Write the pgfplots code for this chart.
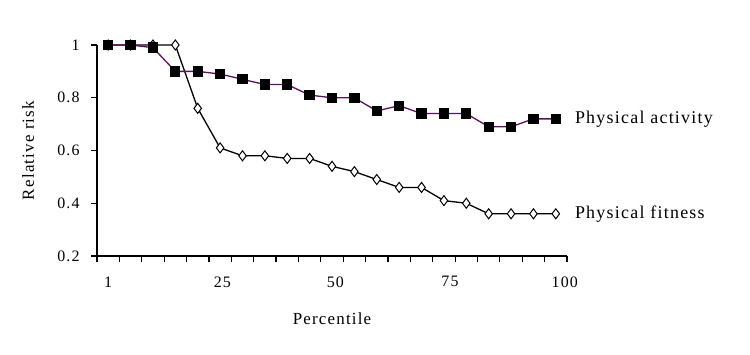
\documentclass[border=0pt]{standalone}
\usepackage{pgfplots}
\pgfplotsset{compat=1.18}
\usepackage{fontspec}
\setmainfont{Liberation Serif}[LetterSpace=7]
\definecolor{actpurple}{RGB}{96,16,96}
\pgfplotstableread{
x y
0 1.00
1 1.00
2 1.00
3 1.00
4 0.76
5 0.61
6 0.58
7 0.58
8 0.57
9 0.57
10 0.54
11 0.52
12 0.49
13 0.46
14 0.46
15 0.41
16 0.40
17 0.36
18 0.36
19 0.36
20 0.36
}\fitness
\pgfplotstableread{
x y
0 1.00
1 1.00
2 0.99
3 0.90
4 0.90
5 0.89
6 0.87
7 0.85
8 0.85
9 0.81
10 0.80
11 0.80
12 0.75
13 0.77
14 0.74
15 0.74
16 0.74
17 0.69
18 0.69
19 0.72
20 0.72
}\activity
\begin{document}
\begin{tikzpicture}[x=1bp,y=1bp]
\path[use as bounding box] (0,0) rectangle (750,354);
\begin{axis}[
  at={(97bp,98bp)}, anchor=south west,
  scale only axis, width=470bp, height=211bp,
  xmin=-0.5, xmax=20.5, ymin=0.2, ymax=1,
  axis x line*=bottom, axis y line*=left,
  axis line style={black, line width=1.2bp},
  xtick={-0.5,0.5,...,20.5}, xticklabels={},
  extra x ticks={0,5.1,10.15,15.27,20.4}, extra x tick labels={1,25,50,75,100},
  extra x tick style={major tick length=0pt, xticklabel style={yshift=-17bp}},
  ytick={0.2,0.4,0.6,0.8,1}, yticklabels={0.2,0.4,0.6,0.8,1},
  yticklabel style={xshift=-8bp},
  tick align=outside, major tick length=6bp,
  tick style={black, line width=1.2bp},
  every tick label/.append style={font=\fontsize{16}{19}\selectfont},
  /pgf/number format/assume math mode=true,
  clip=false,
]
\addplot[black, line width=1.3bp, mark=diamond*, mark size=5bp,
  mark options={fill=white, draw=black, line width=1bp}] table[x=x,y=y]{\fitness};
\addplot[actpurple, line width=1.3bp, mark=square*, mark size=4.5bp,
  mark options={fill=black, draw=black}] table[x=x,y=y]{\activity};
\node[anchor=west, inner sep=0pt, font=\fontsize{18}{21}\selectfont] at ([xshift=19bp]axis cs:20,0.72) {Physical activity};
\node[anchor=west, inner sep=0pt, font=\fontsize{18}{21}\selectfont] at ([xshift=19bp]axis cs:20,0.36) {Physical fitness};
\node[rotate=90, inner sep=0pt, font=\fontsize{17}{20}\selectfont] at ([xshift=-69bp]rel axis cs:0,0.5) {Relative risk};
\node[inner sep=0pt, font=\fontsize{17}{20}\selectfont] at ([yshift=-63bp]rel axis cs:0.5,0) {Percentile};
\end{axis}
\end{tikzpicture}
\end{document}
